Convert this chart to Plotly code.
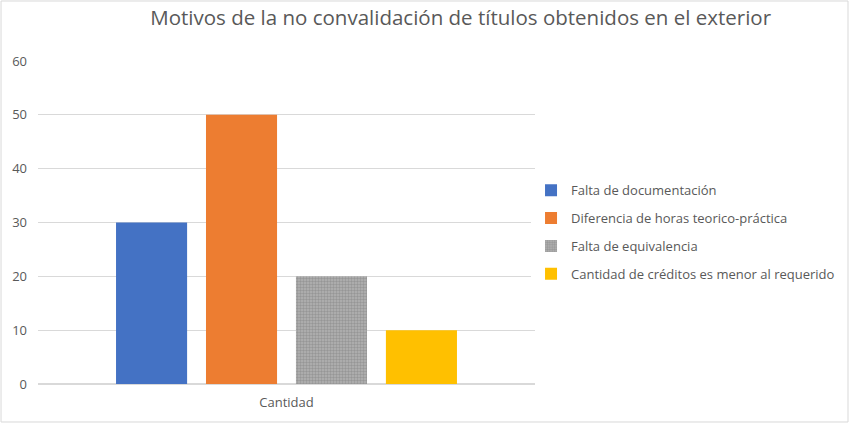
import plotly.graph_objects as go

categoria = ["Cantidad"]
series = [
    "Falta de documentación",
    "Diferencia de horas teorico-práctica",
    "Falta de equivalencia",
    "Cantidad de créditos es menor al requerido",
]
valores = [30, 50, 20, 10]
colores = ["#4472C4", "#ED7D31", "#A5A5A5", "#FFC000"]
y_ticks = [0, 10, 20, 30, 40, 50, 60]

TXT = "#595959"
FONT = "Open Sans"

fig = go.Figure()
for nombre, valor, color in zip(series, valores, colores):
    marker = dict(color=color, line=dict(width=0))
    if nombre == "Falta de equivalencia":
        marker["pattern"] = dict(shape=".", fgcolor="#969696", bgcolor="#B4B4B4",
                                 size=3, solidity=0.5, fillmode="replace")
    fig.add_trace(go.Bar(x=categoria, y=[valor], name=nombre, marker=marker,
                         legendgroup=nombre))

fig.update_layout(
    width=850, height=423,
    margin=dict(l=38, r=315, t=61, b=39, autoexpand=False),
    paper_bgcolor="white", plot_bgcolor="white",
    barmode="group", bargap=0.276, bargroupgap=0.21,
    title=dict(text="Motivos de la no convalidación de títulos obtenidos en el exterior",
               x=0.542, xanchor="center", y=0.958, yanchor="middle",
               font=dict(family=FONT, size=20.5, color=TXT)),
    font=dict(family=FONT, size=13, color=TXT),
    legend=dict(x=0.992, xanchor="left", y=0.47, yanchor="middle",
                font=dict(family=FONT, size=13, color=TXT),
                tracegroupgap=8, itemwidth=30, traceorder="grouped"),
    showlegend=True,
)
fig.update_xaxes(showgrid=False, showline=False, ticks="", ticklabelstandoff=9,
                 tickfont=dict(size=13, color=TXT))
fig.update_yaxes(range=[0, 60], tickvals=y_ticks, showgrid=True,
                 gridcolor="#D9D9D9", gridwidth=1, zeroline=True,
                 zerolinecolor="#D9D9D9", showline=False, ticks="",
                 ticklabelstandoff=10, tickfont=dict(size=13, color=TXT))

# chart border
fig.add_shape(type="rect", xref="paper", yref="paper",
              x0=-0.0744, x1=1.6298, y0=-0.1176, y1=1.1858,
              line=dict(color="#D9D9D9", width=1), layer="below")

fig.write_html("out.html", config={"displayModeBar": False},
               post_script="document.body.style.margin='0';")
